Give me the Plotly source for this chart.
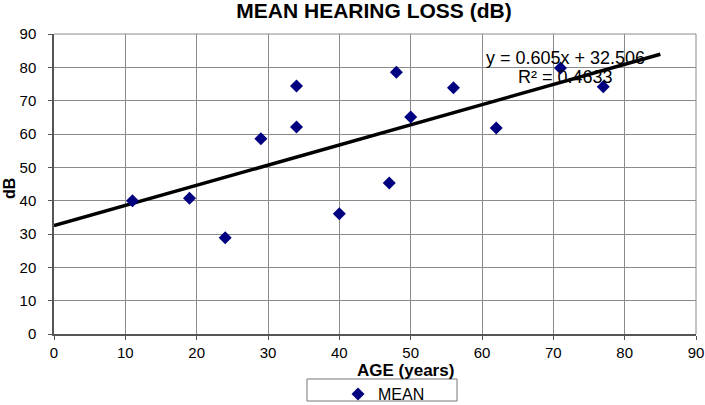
import plotly.graph_objects as go

# Data
age = [11, 19, 24, 29, 34, 34, 40, 47, 48, 50, 56, 62, 71, 77]
mean_db = [40.0, 40.7, 28.9, 58.6, 74.4, 62.1, 36.1, 45.3, 78.5, 65.1, 73.9, 61.8, 79.8, 74.2]
trend_slope = 0.605
trend_intercept = 32.506
trend_r2 = 0.4633
trend_x = [0, 85]
tick_vals = list(range(0, 91, 10))

trend_y = [trend_slope * v + trend_intercept for v in trend_x]

font_family = "Liberation Sans, Arial, sans-serif"
W, H = 705, 405
L, R, T, B = 54, 9, 34, 71
PW, PH = W - L - R, H - T - B


def px_x(p):
    return (p - L) / PW


def px_y(p):
    return (H - B - p) / PH


fig = go.Figure()
fig.add_trace(go.Scatter(
    x=trend_x, y=trend_y, mode="lines",
    line=dict(color="black", width=3.5),
    showlegend=False, hoverinfo="skip",
))
fig.add_trace(go.Scatter(
    x=age, y=mean_db, mode="markers", name="MEAN",
    marker=dict(symbol="diamond", color="#000080", size=10, line=dict(width=0)),
))


def label(px, py, text, size, angle=0):
    fig.add_annotation(
        x=px_x(px), y=px_y(py), xref="paper", yref="paper",
        xanchor="center", yanchor="middle", text=text, showarrow=False,
        textangle=angle, font=dict(family=font_family, size=size, color="black"),
    )


label(565, 58, f"y = {trend_slope}x + {trend_intercept}", 18)
label(565, 77, f"R² = {trend_r2}", 18)
label(406, 370, "<b>AGE (years)</b>", 17)
label(10, 189, "<b>dB</b>", 16, angle=-90)

axis_common = dict(
    range=[0, 90], tickvals=tick_vals,
    showgrid=True, gridcolor="#8a8a8a", gridwidth=1,
    showline=True, linecolor="#555555", linewidth=1.5, mirror=False,
    ticks="outside", ticklen=4, tickcolor="#555555",
    tickfont=dict(family=font_family, size=15, color="black"),
    zeroline=False, automargin=False,
)

fig.update_layout(
    width=W, height=H,
    margin=dict(l=L, r=R, t=T, b=B, autoexpand=False),
    paper_bgcolor="white", plot_bgcolor="white",
    title=dict(text="<b>MEAN HEARING LOSS (dB)</b>", x=374 / W, xanchor="center",
               xref="container", yref="container",
               y=1 - 11 / H, yanchor="middle",
               font=dict(family=font_family, size=21, color="black")),
    xaxis=dict(**axis_common),
    yaxis=dict(**axis_common, ticklabelstandoff=9),
    legend=dict(orientation="h", x=px_x(338), xanchor="left", y=px_y(377), yanchor="top",
                borderwidth=0, bgcolor="rgba(0,0,0,0)",
                font=dict(family=font_family, size=16, color="black")),
    showlegend=True,
)
fig.add_shape(type="line", xref="paper", yref="paper", x0=1, x1=1, y0=0, y1=1,
              line=dict(color="#8a8a8a", width=1))
fig.add_shape(type="line", xref="paper", yref="paper", x0=0, x1=1, y0=1, y1=1,
              line=dict(color="#8a8a8a", width=1))
# legend frame
fig.add_shape(type="rect", xref="paper", yref="paper",
              x0=px_x(307), x1=px_x(457), y0=px_y(379), y1=px_y(401),
              line=dict(color="#777777", width=1), fillcolor="rgba(0,0,0,0)")

fig.write_html("out.html", config={"displayModeBar": False},
               post_script="document.body.style.margin='0';")
